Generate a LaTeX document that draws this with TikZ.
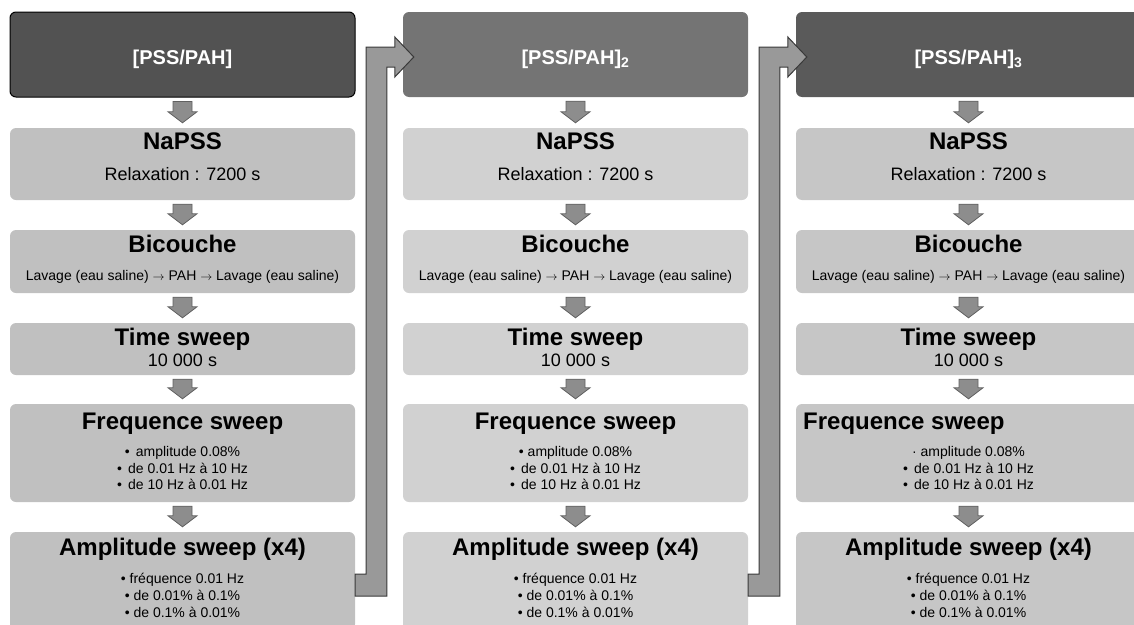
\documentclass[tikz,border=0pt]{standalone}
\usepackage{fontspec}
\setmainfont{Liberation Sans}
\usepackage{xcolor}
\definecolor{vizHeadA}{HTML}{525252}
\definecolor{vizHeadB}{HTML}{747474}
\definecolor{vizHeadC}{HTML}{5A5A5A}
\definecolor{vizStepA}{HTML}{C0C0C0}
\definecolor{vizStepB}{HTML}{D1D1D1}
\definecolor{vizStepC}{HTML}{C6C6C6}
\definecolor{vizArrow}{HTML}{999999}
\definecolor{vizArrowLine}{HTML}{3A3A3A}
\usetikzlibrary{calc}

\tikzset{
  headbox/.style={rounded corners=6pt, minimum width=345pt, minimum height=85pt, inner sep=0pt},
  stepbox/.style={rounded corners=6pt, minimum width=345pt, inner sep=0pt, draw=none},
  headtxt/.style={anchor=base, inner sep=0pt, text=white, font=\bfseries\fontsize{20}{24}\selectfont},
  titletxt/.style={anchor=base, inner sep=0pt, font=\bfseries\fontsize{24}{28}\selectfont},
  subtxt/.style={anchor=base, inner sep=0pt, font=\fontsize{18}{21}\selectfont},
  linetxt/.style={anchor=base, inner sep=0pt, font=\fontsize{14}{17}\selectfont},
  smallarrow/.style={fill=vizArrow!92!black, draw=vizArrowLine!80, line width=0.8pt},
  bigarrow/.style={fill=vizArrow, draw=vizArrowLine, line width=1pt, line join=miter}
}

% thin arrow inside the text
\newcommand{\thinto}{{\fontsize{12}{12}\selectfont$\rightarrow$}}

% small block arrow from one box down to the next
\newcommand{\stepdown}[2]{%
  \filldraw[smallarrow] ($(#1.south)+(-9.5,4)$) -- ($(#1.south)+(9.5,4)$)
    -- ($(#1.south |- #2.north)+(9.5,-16)$) -- ++(5,0)
    -- ($(#1.south |- #2.north)+(0,-5)$)
    -- ($(#1.south |- #2.north)+(-14.5,-16)$) -- ++(5,0) -- cycle;}

\begin{document}
\begin{tikzpicture}[x=1pt, y=-1pt]
  \clip (0,0) rectangle (1134,624);

  % column 1
  \node[headbox, fill=vizHeadA, draw=black, line width=1pt] (headA) at (182.5,54.5) {};
  \node[headtxt] (headAt) at (182.5,64) {[PSS/PAH]};
  \node[stepbox, fill=vizStepA, minimum height=72pt] (napssA) at (182.5,164) {};
  \node[titletxt] (napssAt) at (182.5,149) {NaPSS};
  \node[subtxt] (napssAs) at (182.5,180) {Relaxation : 7200 s};
  \node[stepbox, fill=vizStepA, minimum height=63pt] (bicA) at (182.5,261.5) {};
  \node[titletxt] (bicAt) at (182.5,252) {Bicouche};
  \node[linetxt] (bicAs) at (182.5,280) {Lavage (eau saline) \thinto{} PAH \thinto{} Lavage (eau saline)};
  \node[stepbox, fill=vizStepA, minimum height=52pt] (timeA) at (182.5,349) {};
  \node[titletxt] (timeAt) at (182.5,345) {Time sweep};
  \node[subtxt] (timeAs) at (182.5,366) {10 000 s};
  \node[stepbox, fill=vizStepA, minimum height=98pt] (freqA) at (182.5,453) {};
  \node[titletxt] (freqAt) at (182.5,429) {Frequence sweep};
  \node[linetxt] (freqA1) at (182.5,456) {•\, amplitude 0.08\%};
  \node[linetxt] (freqA2) at (182.5,473) {•\, de 0.01 Hz à 10 Hz};
  \node[linetxt] (freqA3) at (182.5,489) {•\, de 10 Hz à 0.01 Hz};
  \node[stepbox, fill=vizStepA, minimum height=98pt] (ampA) at (182.5,581) {};
  \node[titletxt] (ampAt) at (182.5,555) {Amplitude sweep (x4)};
  \node[linetxt] (ampA1) at (182.5,583) {• fréquence 0.01 Hz};
  \node[linetxt] (ampA2) at (182.5,600) {• de 0.01\% à 0.1\%};
  \node[linetxt] (ampA3) at (182.5,617) {• de 0.1\% à 0.01\%};
  \stepdown{headA}{napssA}
  \stepdown{napssA}{bicA}
  \stepdown{bicA}{timeA}
  \stepdown{timeA}{freqA}
  \stepdown{freqA}{ampA}

  % column 2
  \node[headbox, fill=vizHeadB] (headB) at (575.5,54.5) {};
  \node[headtxt] (headBt) at (575.5,64) {[PSS/PAH]\textsubscript{2}};
  \node[stepbox, fill=vizStepB, minimum height=72pt] (napssB) at (575.5,164) {};
  \node[titletxt] (napssBt) at (575.5,149) {NaPSS};
  \node[subtxt] (napssBs) at (575.5,180) {Relaxation : 7200 s};
  \node[stepbox, fill=vizStepB, minimum height=63pt] (bicB) at (575.5,261.5) {};
  \node[titletxt] (bicBt) at (575.5,252) {Bicouche};
  \node[linetxt] (bicBs) at (575.5,280) {Lavage (eau saline) \thinto{} PAH \thinto{} Lavage (eau saline)};
  \node[stepbox, fill=vizStepB, minimum height=52pt] (timeB) at (575.5,349) {};
  \node[titletxt] (timeBt) at (575.5,345) {Time sweep};
  \node[subtxt] (timeBs) at (575.5,366) {10 000 s};
  \node[stepbox, fill=vizStepB, minimum height=98pt] (freqB) at (575.5,453) {};
  \node[titletxt] (freqBt) at (575.5,429) {Frequence sweep};
  \node[linetxt] (freqB1) at (575.5,456) {• amplitude 0.08\%};
  \node[linetxt] (freqB2) at (575.5,473) {•\, de 0.01 Hz à 10 Hz};
  \node[linetxt] (freqB3) at (575.5,489) {•\, de 10 Hz à 0.01 Hz};
  \node[stepbox, fill=vizStepB, minimum height=98pt] (ampB) at (575.5,581) {};
  \node[titletxt] (ampBt) at (575.5,555) {Amplitude sweep (x4)};
  \node[linetxt] (ampB1) at (575.5,583) {• fréquence 0.01 Hz};
  \node[linetxt] (ampB2) at (575.5,600) {• de 0.01\% à 0.1\%};
  \node[linetxt] (ampB3) at (575.5,617) {• de 0.1\% à 0.01\%};
  \stepdown{headB}{napssB}
  \stepdown{napssB}{bicB}
  \stepdown{bicB}{timeB}
  \stepdown{timeB}{freqB}
  \stepdown{freqB}{ampB}

  % column 3
  \node[headbox, fill=vizHeadC] (headC) at (968.5,54.5) {};
  \node[headtxt] (headCt) at (968.5,64) {[PSS/PAH]\textsubscript{3}};
  \node[stepbox, fill=vizStepC, minimum height=72pt] (napssC) at (968.5,164) {};
  \node[titletxt] (napssCt) at (968.5,149) {NaPSS};
  \node[subtxt] (napssCs) at (968.5,180) {Relaxation : 7200 s};
  \node[stepbox, fill=vizStepC, minimum height=63pt] (bicC) at (968.5,261.5) {};
  \node[titletxt] (bicCt) at (968.5,252) {Bicouche};
  \node[linetxt] (bicCs) at (968.5,280) {Lavage (eau saline) \thinto{} PAH \thinto{} Lavage (eau saline)};
  \node[stepbox, fill=vizStepC, minimum height=52pt] (timeC) at (968.5,349) {};
  \node[titletxt] (timeCt) at (968.5,345) {Time sweep};
  \node[subtxt] (timeCs) at (968.5,366) {10 000 s};
  \node[stepbox, fill=vizStepC, minimum height=98pt] (freqC) at (968.5,453) {};
  \node[titletxt, anchor=base west] (freqCt) at (803,429) {Frequence sweep};
  \node[linetxt] (freqC1) at (968.5,456) {· amplitude 0.08\%};
  \node[linetxt] (freqC2) at (968.5,473) {•\, de 0.01 Hz à 10 Hz};
  \node[linetxt] (freqC3) at (968.5,489) {•\, de 10 Hz à 0.01 Hz};
  \node[stepbox, fill=vizStepC, minimum height=98pt] (ampC) at (968.5,581) {};
  \node[titletxt] (ampCt) at (968.5,555) {Amplitude sweep (x4)};
  \node[linetxt] (ampC1) at (968.5,583) {• fréquence 0.01 Hz};
  \node[linetxt] (ampC2) at (968.5,600) {• de 0.01\% à 0.1\%};
  \node[linetxt] (ampC3) at (968.5,617) {• de 0.1\% à 0.01\%};
  \stepdown{headC}{napssC}
  \stepdown{napssC}{bicC}
  \stepdown{bicC}{timeC}
  \stepdown{timeC}{freqC}
  \stepdown{freqC}{ampC}

  % links between the columns
  \filldraw[bigarrow] ($(ampA.east)+(0,-7)$) -- ++(11,0) |- ($(headB.west)+(-8,-7.5)$)
    -- ++(0,-10) -- ($(headB.west)+(11,2.5)$) -- ++(-19,20) -- ++(0,-10) -- ++(-8,0)
    |- ($(ampA.east)+(0,15)$) -- cycle;
  \filldraw[bigarrow] ($(ampB.east)+(0,-7)$) -- ++(11,0) |- ($(headC.west)+(-8,-7.5)$)
    -- ++(0,-10) -- ($(headC.west)+(11,2.5)$) -- ++(-19,20) -- ++(0,-10) -- ++(-8,0)
    |- ($(ampB.east)+(0,15)$) -- cycle;
\end{tikzpicture}
\end{document}
